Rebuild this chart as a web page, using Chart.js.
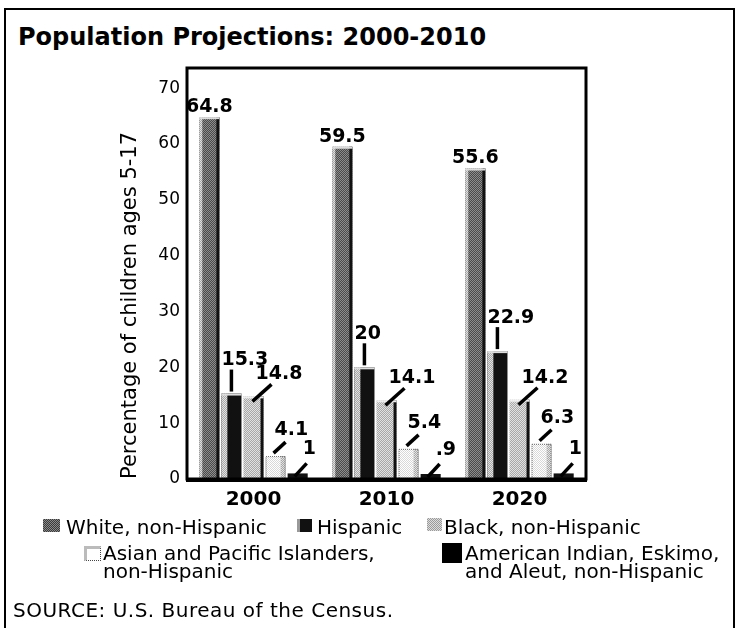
<!DOCTYPE html>
<html>
<head>
<meta charset="utf-8">
<script src="https://cdn.jsdelivr.net/npm/chart.js@4.4.0/dist/chart.umd.min.js"></script>
<style>
    body { margin: 0; background: #fff; color: #000; font-family: "DejaVu Sans", Verdana, sans-serif; }
    #wrap { position: relative; width: 740px; height: 628px; overflow: hidden; }
    #frame { position: absolute; left: 4px; top: 8px; width: 727px; height: 700px; border: 2px solid #000; }
    #title { position: absolute; left: 18px; top: 25px; font-size: 24px; line-height: 24px; font-weight: bold; white-space: nowrap; }
    #chart { position: absolute; left: 0; top: 0; }
    .lg { position: absolute; font-size: 20px; line-height: 18px; white-space: nowrap; }
    .sw { position: absolute; box-sizing: border-box; }
    #source { position: absolute; left: 13px; top: 600px; font-size: 20px; line-height: 20px; letter-spacing: 0.5px; white-space: nowrap; }
</style>
</head>
<body>
<div id="wrap">
    <div id="frame"></div>
    <div id="title">Population Projections: 2000-2010</div>
    <canvas id="chart" width="740" height="628"></canvas>
    <div id="legend"></div>
    <div id="source">SOURCE: U.S. Bureau of the Census.</div>
</div>
<script>
// data
const years = ['2000', '2010', '2020'];
const seriesNames = [
    'White, non-Hispanic',
    'Hispanic',
    'Black, non-Hispanic',
    'Asian and Pacific Islanders, non-Hispanic',
    'American Indian, Eskimo, and Aleut, non-Hispanic'
];
const white = [64.8, 59.5, 55.6];
const hispanic = [15.3, 20, 22.9];
const black = [14.8, 14.1, 14.2];
const asian = [4.1, 5.4, 6.3];
const amIndian = [1, 0.9, 1];
const yTicks = [0, 10, 20, 30, 40, 50, 60, 70];

const FONT = '"DejaVu Sans", Verdana, sans-serif';

// 2x2 stipple patterns for the grey bars
function stipple(c1, c2) {
    const p = document.createElement('canvas');
    p.width = 2; p.height = 2;
    const g = p.getContext('2d');
    g.fillStyle = c1; g.fillRect(0, 0, 2, 2);
    g.fillStyle = c2; g.fillRect(0, 0, 1, 1); g.fillRect(1, 1, 1, 1);
    return document.getElementById('chart').getContext('2d').createPattern(p, 'repeat');
}
const darkGrey = stipple('#4a4a4a', '#8c8c8c');
const lightGrey = stipple('#a8a8a8', '#e2e2e2');
const paleGrey = stipple('#ffffff', '#d8d8d8');

// legend layout
const legendItems = [
    { lines: ['White, non-Hispanic'], sx: 43, sy: 519, sw: 17, sh: 13, tx: 66, ty: 518, css: 'background: repeating-conic-gradient(#3a3a3a 0 25%, #8a8a8a 0 50%) 0 0/2px 2px;' },
    { lines: ['Hispanic'], sx: 297, sy: 519, sw: 15, sh: 13, tx: 317, ty: 518, css: 'background: #111; border-left: 3px solid #999;' },
    { lines: ['Black, non-Hispanic'], sx: 427, sy: 518, sw: 15, sh: 13, tx: 444, ty: 518, css: 'background: repeating-conic-gradient(#9a9a9a 0 25%, #dcdcdc 0 50%) 0 0/2px 2px;' },
    { lines: ['Asian and Pacific Islanders,', 'non-Hispanic'], sx: 84, sy: 546, sw: 17, sh: 15, tx: 103, ty: 544, css: 'background: #fff; border: 1px dotted #444; border-top: 3px solid #bbb; border-left: 3px solid #bbb;' },
    { lines: ['American Indian, Eskimo,', 'and Aleut, non-Hispanic'], sx: 442, sy: 543, sw: 20, sh: 20, tx: 465, ty: 544, css: 'background: #000;' }
];
const legendEl = document.getElementById('legend');
legendItems.forEach(function(item) {
    const sw = document.createElement('div');
    sw.className = 'sw';
    sw.style.cssText = 'left:' + item.sx + 'px;top:' + item.sy + 'px;width:' + item.sw + 'px;height:' + item.sh + 'px;' + item.css;
    legendEl.appendChild(sw);
    const tx = document.createElement('div');
    tx.className = 'lg';
    tx.style.left = item.tx + 'px';
    tx.style.top = item.ty + 'px';
    tx.innerHTML = item.lines.join('<br>');
    legendEl.appendChild(tx);
});

// label placement for each series: text offset from bar top, leader line
const labelRules = [
    { dx: 0, dy: -10, align: 'center', line: null },
    { dx: -10, dy: -33, align: 'left', line: [0, -2, 0, -24] },
    { dx: 2, dy: -22, align: 'left', line: [-1, 5, 18, -12] },
    { dx: -1, dy: -26, align: 'left', line: [-2, -3, 10, -14] },
    { dx: 5, dy: -24, align: 'left', line: [-3, 3, 9, -10] }
];

function fmt(v) {
    return v < 1 ? String(v).slice(1) : String(v);
}

const barDecor = {
    id: 'barDecor',
    afterDatasetsDraw(chart) {
        const ctx = chart.ctx;
        ctx.save();
        chart.data.datasets.forEach(function(ds, i) {
            const meta = chart.getDatasetMeta(i);
            meta.data.forEach(function(bar) {
                const left = bar.x - bar.width / 2;
                const right = bar.x + bar.width / 2;
                const h = bar.base - bar.y;
                if (i === 0) {
                    ctx.fillStyle = lightGrey; ctx.fillRect(left, bar.y, 3, h);
                    ctx.fillStyle = '#111'; ctx.fillRect(right - 3, bar.y, 3, h);
                    ctx.fillStyle = '#ddd'; ctx.fillRect(left, bar.y, bar.width, 2);
                } else if (i === 1) {
                    ctx.fillStyle = lightGrey; ctx.fillRect(left, bar.y, 6, h);
                    ctx.fillStyle = '#ddd'; ctx.fillRect(left, bar.y, bar.width, 2);
                } else if (i === 2) {
                    ctx.fillStyle = '#111'; ctx.fillRect(right - 3, bar.y, 3, h);
                    ctx.fillStyle = '#eee'; ctx.fillRect(left, bar.y, bar.width, 2);
                } else if (i === 3) {
                    ctx.fillStyle = lightGrey; ctx.fillRect(right - 5, bar.y, 5, h);
                    ctx.strokeStyle = '#666'; ctx.lineWidth = 1; ctx.setLineDash([1, 1]);
                    ctx.strokeRect(left + 0.5, bar.y + 0.5, bar.width - 1, h - 1);
                    ctx.setLineDash([]);
                }
            });
        });

        // value labels with leader lines
        ctx.font = 'bold 19px ' + FONT;
        ctx.textBaseline = 'middle';
        ctx.fillStyle = '#000';
        ctx.strokeStyle = '#000';
        ctx.lineWidth = 3.5;
        chart.data.datasets.forEach(function(ds, i) {
            const rule = labelRules[i];
            const meta = chart.getDatasetMeta(i);
            meta.data.forEach(function(bar, j) {
                if (rule.line) {
                    ctx.beginPath();
                    ctx.moveTo(bar.x + rule.line[0], bar.y + rule.line[1]);
                    ctx.lineTo(bar.x + rule.line[2], bar.y + rule.line[3]);
                    ctx.stroke();
                }
                ctx.textAlign = rule.align;
                ctx.fillText(fmt(ds.data[j]), bar.x + rule.dx, bar.y + rule.dy);
            });
        });
        ctx.restore();
    }
};

const plotFrame = {
    id: 'plotFrame',
    afterDraw(chart) {
        const a = chart.chartArea;
        const ctx = chart.ctx;
        ctx.save();
        ctx.strokeStyle = '#000';
        ctx.lineWidth = 3;
        ctx.strokeRect(a.left, a.top, a.right - a.left, a.bottom - a.top);
        ctx.lineWidth = 4;
        ctx.beginPath();
        ctx.moveTo(a.left - 1, a.bottom + 1);
        ctx.lineTo(a.right + 1, a.bottom + 1);
        ctx.stroke();
        ctx.restore();
    }
};

const ctx = document.getElementById('chart').getContext('2d');
new Chart(ctx, {
    type: 'bar',
    data: {
        labels: years,
        datasets: [
            { label: seriesNames[0], data: white, backgroundColor: darkGrey },
            { label: seriesNames[1], data: hispanic, backgroundColor: '#111' },
            { label: seriesNames[2], data: black, backgroundColor: lightGrey },
            { label: seriesNames[3], data: asian, backgroundColor: paleGrey },
            { label: seriesNames[4], data: amIndian, backgroundColor: '#111' }
        ]
    },
    options: {
        responsive: false,
        animation: false,
        layout: {
            padding: { top: 68, right: 154, bottom: 0, left: 0 }
        },
        datasets: {
            bar: {
                categoryPercentage: 0.83,
                barPercentage: 0.91
            }
        },
        plugins: {
            legend: { display: false },
            tooltip: { enabled: false }
        },
        scales: {
            x: {
                grid: { display: false, drawTicks: false },
                border: { display: false },
                ticks: {
                    color: '#000',
                    padding: 9,
                    font: { family: FONT, size: 20, weight: 'bold' }
                },
                afterFit: function(scale) { scale.height = 149; }
            },
            y: {
                min: 0,
                max: 73.6,
                afterBuildTicks: function(scale) {
                    scale.ticks = yTicks.map(function(v) { return { value: v }; });
                },
                grid: { display: false, drawTicks: false },
                border: { display: false },
                ticks: {
                    color: '#000',
                    padding: 7,
                    font: { family: FONT, size: 17 }
                },
                title: {
                    display: true,
                    text: 'Percentage of children ages 5-17',
                    align: 'start',
                    color: '#000',
                    font: { family: FONT, size: 21 },
                    padding: { top: 118, bottom: 0 }
                },
                afterFit: function(scale) { scale.width = 187; }
            }
        }
    },
    plugins: [barDecor, plotFrame]
});
</script>
</body>
</html>
